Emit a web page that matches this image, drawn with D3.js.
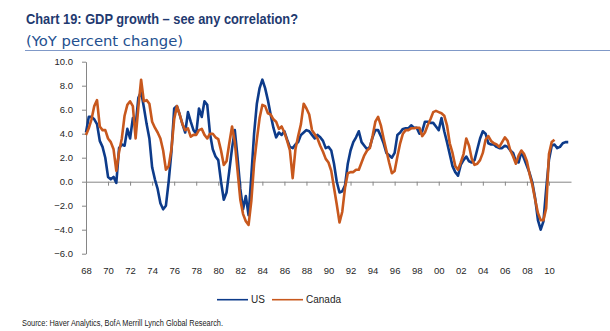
<!DOCTYPE html>
<html>
<head>
<meta charset="utf-8">
<script src="https://cdn.jsdelivr.net/npm/d3@7"></script>
<style>
    body { margin: 0; background: #fff; }
    svg { display: block; }
    text { font-family: 'Liberation Sans', Arial, sans-serif; }
</style>
</head>
<body>
<svg id="chart" width="610" height="331"></svg>
<script>
// quarterly YoY % change, first value is 1968 Q1
let startYear = 1968;

let usGrowth = [
    4.1, 5.4, 5.4, 5.2,   4.8, 3.4, 2.9, 2.0,   0.4, 0.2, 0.4, -0.1,  2.8, 3.1, 3.0, 4.4,
    3.6, 5.3, 4.6, 7.0,   7.5, 6.2, 4.8, 3.6,   1.2, 0.2, -0.6, -1.8, -2.3, -2.0, 0.0, 2.5,
    6.1, 6.3, 5.6, 4.8,   4.1, 5.8, 5.0, 4.3,   4.0, 6.1, 5.4, 6.7,   6.4, 4.0, 2.7, 2.1,
    1.8, 0.0, -1.5, -0.9, 0.9, 2.8, 4.3, 2.0,   -0.6, -2.3, -1.2, -2.8, 0.5, 4.0, 6.5, 7.8,
    8.5, 7.8, 6.8, 5.6,   4.5, 3.7, 4.1, 3.9,   4.2, 3.5, 2.9, 2.8,   3.1, 3.3, 3.9, 4.1,
    4.3, 4.2, 3.9, 3.6,   3.9, 3.7, 3.4, 2.8,   2.9, 2.6, 1.5, 0.0,   -0.9, -0.8, -0.3, 1.5,
    2.6, 3.3, 3.7, 4.2,   3.3, 3.0, 2.7, 2.9,   3.7, 4.3, 4.3, 3.8,   3.2, 2.4, 2.2, 2.0,
    2.4, 3.9, 4.1, 4.4,   4.45, 4.45, 4.7, 4.5, 4.5, 4.0, 4.2, 5.0,   5.0, 4.9, 4.9, 4.6,
    4.3, 5.3, 4.2, 3.3,   2.3, 1.3, 0.8, 0.5,   1.4, 1.8, 2.1, 1.7,   1.6, 1.8, 2.7, 3.6,
    4.2, 4.0, 3.2, 3.1,   3.1, 2.9, 2.8, 2.8,   3.0, 2.9, 2.6, 2.4,   1.7, 1.6, 2.5, 1.9,
    1.3, 0.7, -0.1, -1.4, -3.2, -4.0, -3.3, -0.6, 1.8, 3.0, 3.1, 2.8,  2.9, 3.2, 3.3, 3.3
];

let canadaGrowth = [
    3.9, 4.45, 5.2, 6.3,  6.8, 4.6, 4.3, 4.3,   3.6, 3.3, 2.7, 0.9,   2.5, 3.6, 5.5, 6.4,
    6.7, 6.3, 3.6, 6.2,   8.5, 6.7, 6.8, 6.5,   5.0, 4.5, 4.1, 3.6,   2.6, 1.0, 1.3, 2.7,
    5.2, 6.3, 5.6, 4.8,   4.3, 4.45, 3.75, 3.9, 3.9, 4.3, 4.4, 3.9,   3.6, 4.0, 4.0, 3.7,
    3.55, 2.6, 1.4, 1.7,  3.2, 4.6, 3.3, 0.9,   -1.5, -2.7, -3.3, -3.6, -1.6, 1.5, 3.5, 5.3,
    6.4, 6.3, 5.7, 5.6,   5.2, 5.0, 4.4, 4.6,   4.1, 3.4, 2.6, 0.3,   2.7, 3.8, 4.8, 6.5,
    6.1, 5.6, 4.3, 3.95,  3.6, 3.0, 2.5, 1.9,   1.6, 0.9, -0.5, -1.9, -3.4, -2.5, -0.5, 0.7,
    0.8, 0.8, 1.0, 1.0,   1.6, 2.2, 2.6, 2.8,   3.8, 5.0, 5.4, 4.7,   3.6, 2.6, 1.6, 0.7,
    0.9, 2.1, 3.2, 4.0,   4.3, 4.3, 4.45, 4.45, 4.5, 4.5, 3.8, 4.1,   4.7, 5.2, 5.8, 5.9,
    5.8, 5.7, 5.5, 4.7,   3.2, 2.4, 1.3, 1.0,   1.6, 2.3, 3.6, 3.0,   1.9, 1.4, 1.5, 1.8,
    2.4, 3.5, 3.8, 3.4,   3.2, 3.1, 2.9, 3.3,   3.7, 3.4, 2.6, 2.1,   1.5, 2.2, 2.6, 2.3,
    1.7, 0.6, -0.3, -1.5, -2.6, -3.2, -3.2, -2.2, 2.3, 3.3, 3.5
];

let xTickYears = d3.range(1968, 2011, 2);
let yTickValues = [-6, -4, -2, 0, 2, 4, 6, 8, 10];
let seriesNames = ['US', 'Canada'];
let seriesColors = ['#0d3b8a', '#c8581d'];

let svg = d3.select('#chart');

let x = d3.scaleLinear().domain([1968, 2012]).range([86, 571]);
let y = d3.scaleLinear().domain([-6, 10]).range([253.7, 61.7]);

// heading
svg.append('text')
    .attr('x', 26)
    .attr('y', 24)
    .attr('textLength', 272)
    .attr('lengthAdjust', 'spacingAndGlyphs')
    .style('font-family', "'Liberation Sans Narrow', 'Arial Narrow', 'Liberation Sans', Arial, sans-serif")
    .style('font-size', '15px')
    .style('font-weight', 'bold')
    .style('fill', '#1f3a70')
    .text('Chart 19: GDP growth – see any correlation?');

svg.append('text')
    .attr('x', 26)
    .attr('y', 46)
    .attr('textLength', 157)
    .attr('lengthAdjust', 'spacingAndGlyphs')
    .style('font-family', "'DejaVu Sans', Verdana, sans-serif")
    .style('font-size', '13.5px')
    .style('fill', '#24508f')
    .text('(YoY percent change)');

svg.append('line')
    .attr('x1', 25).attr('x2', 610)
    .attr('y1', 50.5).attr('y2', 50.5)
    .style('stroke', '#8099c8')
    .style('stroke-width', 1);

// y axis
let yAxis = svg.append('g')
    .attr('transform', 'translate(86,0)')
    .call(d3.axisLeft(y)
        .tickValues(yTickValues)
        .tickFormat(d3.format('.1f'))
        .tickSize(4)
        .tickSizeOuter(0)
        .tickPadding(9));

// zero line with year ticks hanging below it
let xAxis = svg.append('g')
    .attr('transform', 'translate(0,' + y(0) + ')')
    .call(d3.axisBottom(x)
        .tickValues(xTickYears)
        .tickFormat('')
        .tickSize(4)
        .tickSizeOuter(0));

let xLabels = svg.append('g')
    .attr('transform', 'translate(0,267)')
    .call(d3.axisBottom(x)
        .tickValues(xTickYears)
        .tickFormat((d) => String(d % 100).padStart(2, '0'))
        .tickSize(0)
        .tickPadding(0));
xLabels.select('.domain').remove();

[yAxis, xAxis].forEach((g) => {
    g.selectAll('.domain, line').style('stroke', '#868686').style('stroke-width', 1);
});
[yAxis, xLabels].forEach((g) => {
    g.selectAll('text')
        .style('font-family', "'Liberation Sans', Arial, sans-serif")
        .style('font-size', '9.5px')
        .style('fill', '#262626');
});

// series lines
let line = d3.line()
    .x((d, i) => x(startYear + i / 4))
    .y((d) => y(d));

[usGrowth, canadaGrowth].forEach((values, k) => {
    svg.append('path')
        .datum(values)
        .attr('d', line)
        .style('fill', 'none')
        .style('stroke', seriesColors[k])
        .style('stroke-width', 2.6)
        .style('stroke-linejoin', 'round');
});

// legend
let legendX = [217, 272];
let legend = svg.append('g');
seriesNames.forEach((name, k) => {
    legend.append('line')
        .attr('x1', legendX[k]).attr('x2', legendX[k] + 31)
        .attr('y1', 299.7).attr('y2', 299.7)
        .style('stroke', seriesColors[k])
        .style('stroke-width', 1.6);
    legend.append('text')
        .attr('x', legendX[k] + 34)
        .attr('y', 303.3)
        .style('font-size', '10px')
        .style('fill', '#262626')
        .text(name);
});

svg.append('text')
    .attr('x', 22)
    .attr('y', 325.5)
    .attr('textLength', 201)
    .attr('lengthAdjust', 'spacingAndGlyphs')
    .style('font-family', "'Liberation Sans Narrow', 'Arial Narrow', 'Liberation Sans', Arial, sans-serif")
    .style('font-size', '8.5px')
    .style('fill', '#1a1a1a')
    .text('Source: Haver Analytics, BofA Merrill Lynch Global Research.');
</script>
</body>
</html>
